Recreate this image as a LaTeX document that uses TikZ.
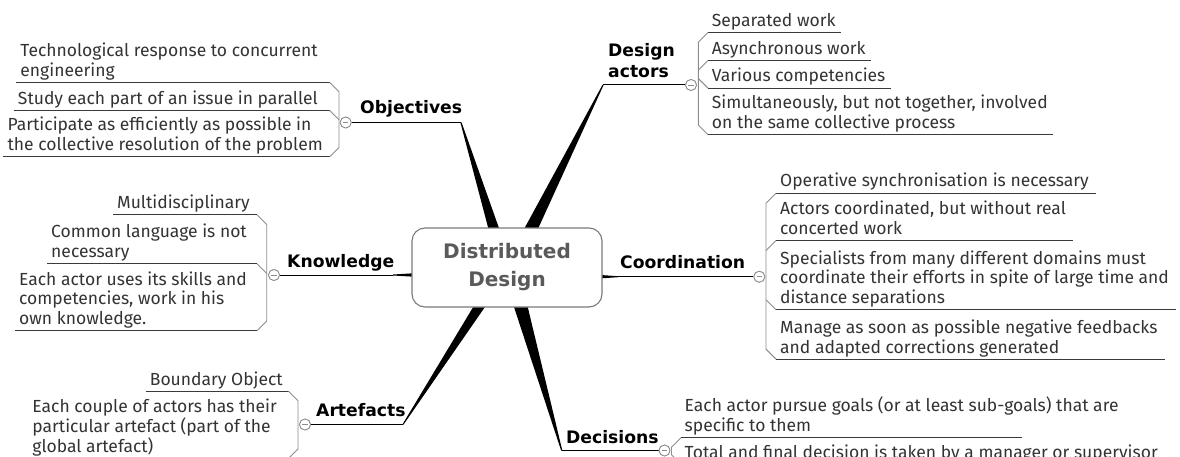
\documentclass[tikz,border=0pt]{standalone}
\usepackage{fontspec}
\setmainfont{Fira Sans}
\newfontfamily\lblfam{DejaVu Sans}
\definecolor{itemgray}{HTML}{333333}
\definecolor{ulcol}{HTML}{3a3a3a}
\definecolor{brkcol}{HTML}{8c8c8c}
\definecolor{centertxt}{HTML}{5a5a5a}
\definecolor{nodeborder}{HTML}{7a7a7a}
\newcommand\itemfont{\fontsize{17.5}{19.8}\selectfont\lineskiplimit=-100pt\relax}
\newcommand\lblfont{\lblfam\bfseries\fontsize{17.2}{20.6}\selectfont}
\newcommand\ctrfont{\lblfam\bfseries\fontsize{20}{28}\selectfont}
\begin{document}
\begin{tikzpicture}[x=1pt,y=-1pt,
  itxt/.style={font=\itemfont, text=itemgray, inner sep=0pt, align=left},
  lbl/.style={font=\lblfont, text=black, inner sep=0pt, anchor=base west},
  uline/.style={draw=ulcol, line width=0.9pt},
  brk/.style={draw=brkcol, line width=0.9pt},
  mainline/.style={draw=black, line width=1pt},
  wedgefill/.style={fill=black},
  tog/.style={circle, draw=brkcol, fill=white, line width=0.8pt, minimum size=11pt, inner sep=0pt,
    path picture={\draw[brkcol, line width=0.8pt] ([xshift=-2.6pt]path picture bounding box.center) -- ([xshift=2.6pt]path picture bounding box.center);}}
]
\useasboundingbox (0,0) rectangle (1180,457);

% ---------- tapered main branches ----------
\coordinate (objP) at (461,122.5);
\coordinate (objA) at (489,231);
\coordinate (objB) at (500,231);
\fill[wedgefill] ([xshift=-0.6pt]objP) -- (objA) -- (objB) -- ([xshift=0.6pt]objP) -- cycle;

\coordinate (dsP) at (603,85);
\coordinate (dsA) at (523,231);
\coordinate (dsB) at (537,231);
\fill[wedgefill] ([xshift=-0.6pt]dsP) -- (dsA) -- (dsB) -- ([xshift=0.6pt]dsP) -- cycle;

\coordinate (arP) at (403,424.5);
\coordinate (arA) at (475,304);
\coordinate (arB) at (487,304);
\fill[wedgefill] ([xshift=-0.6pt]arP) -- (arA) -- (arB) -- ([xshift=0.6pt]arP) -- cycle;

\coordinate (deP) at (561.7,450.5);
\coordinate (deA) at (513,304);
\coordinate (deB) at (527,304);
\fill[wedgefill] ([xshift=-0.6pt]deP) -- (deA) -- (deB) -- ([xshift=0.6pt]deP) -- cycle;

\coordinate (knP) at (393,275);
\coordinate (knA) at (415,273.2);
\coordinate (knB) at (415,276.8);
\fill[wedgefill] ([yshift=0.5pt]knP) -- (knA) -- (knB) -- ([yshift=-0.5pt]knP) -- cycle;

\coordinate (coP) at (618,276.7);
\coordinate (coA) at (599,274.9);
\coordinate (coB) at (599,278.5);
\fill[wedgefill] ([yshift=0.5pt]coP) -- (coA) -- (coB) -- ([yshift=-0.5pt]coP) -- cycle;

% ---------- central topic ----------
\node[draw=nodeborder, fill=white, rounded corners=13pt, minimum width=190pt, minimum height=79pt,
  line width=1.1pt, font=\ctrfont, text=centertxt, align=center, inner sep=0pt] (ctr) at (507,267.5) {Distributed\\Design};

% ---------- main labels ----------
\node[lbl] (lob) at (360,114) {Objectives};
\node[lbl] (lds1) at (608,56.7) {Design};
\node[lbl] (lds2) at (608,77.3) {actors};
\node[lbl] (lkn) at (287,267.5) {Knowledge};
\node[lbl] (lco) at (620,268.5) {Coordination};
\node[lbl] (lar) at (316,416.5) {Artefacts};
\node[lbl] (lde) at (566,443.5) {Decisions};

% ---------- toggles ----------
\node[tog] (cob) at (345.7,122.5) {};
\node[tog] (cds) at (691,85) {};
\node[tog] (ckn) at (274,275) {};
\node[tog] (cco) at (759.3,276.7) {};
\node[tog] (car) at (305,424.5) {};
\node[tog] (cde) at (664.5,450.5) {};

\draw[mainline] (cob.east) -- (objP);
\draw[mainline] (dsP) -- (cds.west);
\draw[mainline] (ckn.east) -- (knP);
\draw[mainline] (coP) -- (cco.west);
\draw[mainline] (car.east) -- (arP);
\draw[mainline] (deP) -- (cde.west);

% ---------- Objectives items ----------
\node[itxt, anchor=north east] (ob1) at (318,42.54) {\strut Technological response to concurrent\\\strut engineering};
\node[itxt, anchor=north east] (ob2) at (318,90.34) {\strut Study each part of an issue in parallel};
\node[itxt, anchor=north east] (ob3) at (323,116.84) {\strut Participate as efficiently as possible in\\\strut the collective resolution of the problem};
\draw[uline] ([xshift=-4pt]ob1.south west) -- (329.7,0 |- ob1.south);
\draw[uline] ([xshift=-4pt]ob2.south west) -- (329.7,0 |- ob2.south);
\draw[uline] ([xshift=-4pt]ob3.south west) -- (329.7,0 |- ob3.south);
\draw[brk] (329.7,0 |- ob1.south) -- ++(9.3,9.3) -- (339,0 |- cob.center);
\draw[brk] (329.7,0 |- ob2.south) -- ++(9.3,9.3);
\draw[brk] (329.7,0 |- ob3.south) -- ++(9.3,-9.3) -- (339,0 |- cob.center);

% ---------- Design actors items ----------
\node[itxt, anchor=north west] (d1) at (711.7,12.34) {\strut Separated work};
\node[itxt, anchor=north west] (d2) at (711.7,40.34) {\strut Asynchronous work};
\node[itxt, anchor=north west] (d3) at (711.7,67.94) {\strut Various competencies};
\node[itxt, anchor=north west] (d4) at (711.7,94.84) {\strut Simultaneously, but not together, involved\\\strut on the same collective process};
\foreach \n in {d1,d2,d3,d4}{\draw[uline] ([xshift=-3.7pt]\n.south west) -- ([xshift=5pt]\n.south east);}
\draw[brk] ([xshift=-3.7pt]d1.south west) -- ++(-9.7,9.7) -- (698.3,0 |- cds.center);
\draw[brk] ([xshift=-3.7pt]d2.south west) -- ++(-9.7,9.7);
\draw[brk] ([xshift=-3.7pt]d3.south west) -- ++(-9.7,-9.7);
\draw[brk] ([xshift=-3.7pt]d4.south west) -- ++(-9.7,-9.7) -- (698.3,0 |- cds.center);

% ---------- Knowledge items ----------
\node[itxt, anchor=north east] (k1) at (250,194.64) {\strut Multidisciplinary};
\node[itxt, anchor=north east] (k2) at (247,223.84) {\strut Common language is not\\\strut necessary};
\node[itxt, anchor=north east] (k3) at (247,271.04) {\strut Each actor uses its skills and\\\strut competencies, work in his\\\strut own knowledge.};
\draw[uline] ([xshift=-4pt]k1.south west) -- (257,0 |- k1.south);
\draw[uline] ([xshift=-4pt]k2.south west) -- (257,0 |- k2.south);
\draw[uline] ([xshift=-4pt]k3.south west) -- (257,0 |- k3.south);
\draw[brk] (257,0 |- k1.south) -- ++(9.7,9.7) -- (266.7,0 |- ckn.center);
\draw[brk] (257,0 |- k2.south) -- ++(9.7,9.7);
\draw[brk] (257,0 |- k3.south) -- ++(9.7,-9.7) -- (266.7,0 |- ckn.center);

% ---------- Coordination items ----------
\node[itxt, anchor=north west] (c1) at (780,172.94) {\strut Operative synchronisation is necessary};
\node[itxt, anchor=north west] (c2) at (780,200.54) {\strut Actors coordinated, but without real\\\strut concerted work};
\node[itxt, anchor=north west] (c3) at (780,250.04) {\strut Specialists from many different domains must\\\strut coordinate their efforts in spite of large time and\\\strut distance separations};
\node[itxt, anchor=north west] (c4) at (780,319.14) {\strut Manage as soon as possible negative feedbacks\\\strut and adapted corrections generated};
\foreach \n in {c1,c2,c3,c4}{\draw[uline] ([xshift=-4pt]\n.south west) -- ([xshift=7pt]\n.south east);}
\draw[brk] ([xshift=-4pt]c1.south west) -- ++(-10,10) -- (766,0 |- cco.center);
\draw[brk] ([xshift=-4pt]c2.south west) -- ++(-10,10);
\draw[brk] ([xshift=-4pt]c3.south west) -- ++(-10,-10);
\draw[brk] ([xshift=-4pt]c4.south west) -- ++(-10,-10) -- (766,0 |- cco.center);

% ---------- Artefacts items ----------
\node[itxt, anchor=north east] (a1) at (283,371.14) {\strut Boundary Object};
\node[itxt, anchor=north east] (a2) at (277,398.64) {\strut Each couple of actors has their\\\strut particular artefact (part of the\\\strut global artefact)};
\draw[uline] ([xshift=-4pt]a1.south west) -- (288.5,0 |- a1.south);
\draw[uline] ([xshift=-4pt]a2.south west) -- (288.5,0 |- a2.south);
\draw[brk] (288.5,0 |- a1.south) -- ++(9.5,9.5) -- (298,0 |- car.center);
\draw[brk] (288.5,0 |- a2.south) -- ++(9.5,-9.5) -- (298,0 |- car.center);

% ---------- Decisions items ----------
\node[itxt, anchor=north west] (de1) at (684.5,396.84) {\strut Each actor pursue goals (or at least sub-goals) that are\\\strut specific to them};
\node[itxt, anchor=north west] (de2) at (684.5,444.14) {\strut Total and final decision is taken by a manager or supervisor};
\draw[uline] ([xshift=-3.5pt]de1.south west) -- (1022,0 |- de1.south);
\draw[uline] ([xshift=-3.5pt]de2.south west) -- ([xshift=5pt]de2.south east);
\draw[brk] ([xshift=-3.5pt]de1.south west) -- ++(-9.5,9.5) -- (671.5,0 |- cde.center);
\draw[brk] ([xshift=-3.5pt]de2.south west) -- ++(-9.5,-9.5) -- (671.5,0 |- cde.center);

% toggles on top again
\node[tog] at (cob) {};
\node[tog] at (cds) {};
\node[tog] at (ckn) {};
\node[tog] at (cco) {};
\node[tog] at (car) {};
\node[tog] at (cde) {};
\end{tikzpicture}
\end{document}
